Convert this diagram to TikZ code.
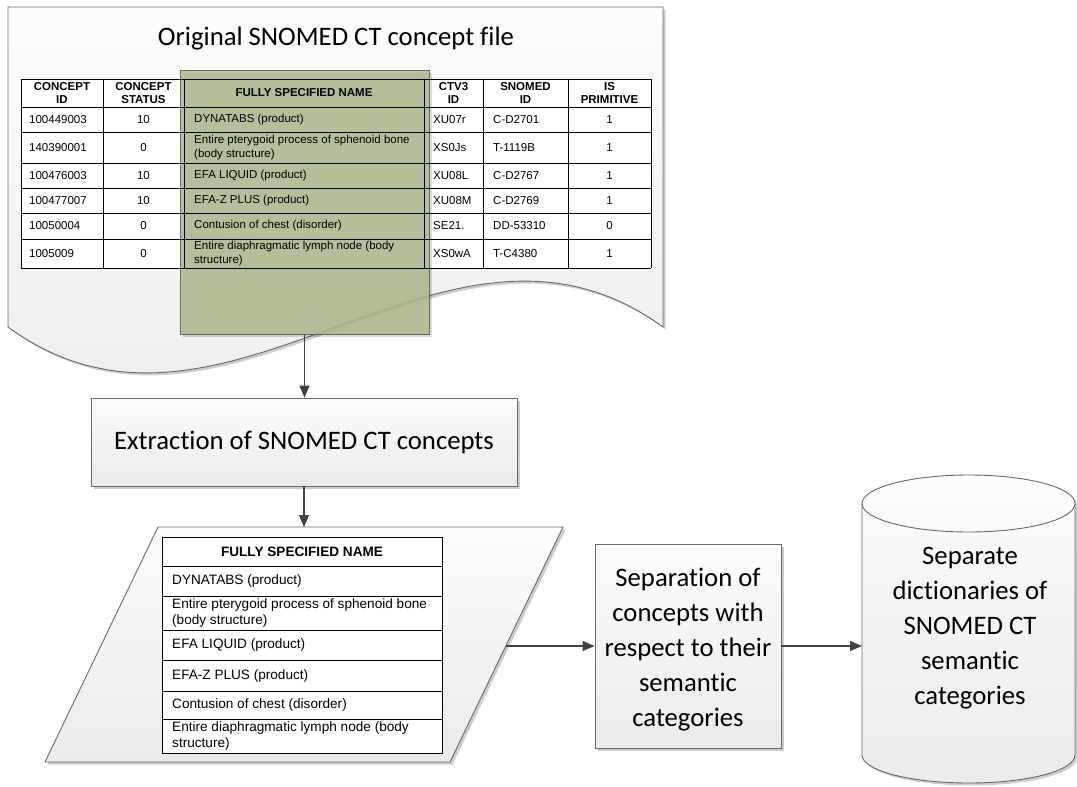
\documentclass[tikz,border=0pt]{standalone}
\usepackage{fontspec}
\setmainfont{Carlito}[Ligatures=NoCommon]
\newfontfamily\arialfont{Liberation Sans}
\usetikzlibrary{arrows.meta,shadows}
\definecolor{shapeline}{RGB}{105,105,105}
\definecolor{arrowc}{RGB}{64,64,64}
\definecolor{greenfill}{RGB}{174,186,141}
\definecolor{greenline}{RGB}{100,108,88}
\definecolor{shapetop}{RGB}{252,252,252}
\definecolor{shapebot}{RGB}{234,234,234}
\begin{document}
\begin{tikzpicture}[x=1pt,y=-1pt,
 shapefill/.style={draw=shapeline, line width=0.9pt, top color=shapetop, bottom color=shapebot},
 boxshadow/.style={drop shadow={shadow xshift=2.5pt, shadow yshift=-2.5pt, opacity=0.2, fill=black}},
 box/.style={shapefill, boxshadow, font=\fontsize{26.7}{35}\selectfont, align=center, inner sep=0pt},
 conn/.style={draw=arrowc, line width=1.4pt, -{Triangle[length=12pt,width=10pt]}},
 cell/.style={font=\arialfont\fontsize{11.5}{13.3}\selectfont, inner sep=0pt, align=left},
 hcell/.style={font=\arialfont\bfseries\fontsize{11.5}{12.8}\selectfont, inner sep=0pt, align=center},
 cellb/.style={font=\arialfont\fontsize{13.6}{16}\selectfont, inner sep=0pt, align=left},
 tline/.style={draw=black, line width=0.9pt},
]
\useasboundingbox (0,0) rectangle (1077,787);

% ---------- document shape ----------
\path[shapefill, boxshadow] (8,7) -- (663,7) -- (663,327)
  .. controls (444.7,168) and (226.3,486) .. (8,327) -- cycle;
\node[font=\fontsize{26.7}{32}\selectfont, inner sep=0pt] (title) at (336,39) {Original SNOMED CT concept file};

% top table background
\fill[white] (21,79) rectangle (651,268);

% green highlight
\node[draw=greenline, fill=greenfill, fill opacity=0.85, line width=0.9pt,
      minimum width=249pt, minimum height=264pt, inner sep=0pt,
      drop shadow={shadow xshift=2.5pt, shadow yshift=-2.5pt, opacity=0.15, fill=black}] (fsn) at (304.5,202) {};

% top table grid
\foreach \x in {21,103,184,424,483,568,651} \draw[tline] (\x,79) -- (\x,268);
\foreach \y in {79,107,132,163,188,213,239,268} \draw[tline] (21,\y) -- (651,\y);

% header
\node[hcell] (h1) at (62,93) {CONCEPT\\ID};
\node[hcell] (h2) at (143.5,93) {CONCEPT\\STATUS};
\node[hcell] (h3) at (304,93) {FULLY SPECIFIED NAME};
\node[hcell] (h4) at (453.5,93) {CTV3\\ID};
\node[hcell] (h5) at (525.5,93) {SNOMED\\ID};
\node[hcell] (h6) at (609.5,93) {IS\\PRIMITIVE};

% rows
\foreach \r/\yy/\ca/\cb/\cc/\cd/\ce/\cf in {
  1/119.5/100449003/10/{DYNATABS (product)}/XU07r/C-D2701/1,
  2/147.5/140390001/0/{Entire pterygoid process of sphenoid bone\\(body structure)}/XS0Js/T-1119B/1,
  3/175.5/100476003/10/{EFA LIQUID (product)}/XU08L/C-D2767/1,
  4/200.5/100477007/10/{EFA-Z PLUS (product)}/XU08M/C-D2769/1,
  5/226/10050004/0/{Contusion of chest (disorder)}/SE21./DD-53310/0,
  6/253.5/1005009/0/{Entire diaphragmatic lymph node (body\\structure)}/XS0wA/T-C4380/1}{
  \node[cell, anchor=west] (ra\r) at (29,\yy) {\ca};
  \node[cell] (rb\r) at (143.5,\yy) {\cb};
  \node[cell, anchor=west] (rc\r) at (194,\yy) {\cc};
  \node[cell, anchor=west] (rd\r) at (433,\yy) {\cd};
  \node[cell, anchor=west] (re\r) at (493,\yy) {\ce};
  \node[cell] (rf\r) at (609.5,\yy) {\cf};
}

% ---------- extraction box ----------
\node[box, minimum width=426pt, minimum height=88pt] (ext) at (304,442) {Extraction of SNOMED CT concepts};

% ---------- parallelogram with extracted names ----------
\path[shapefill, boxshadow] (158,527) -- (563,527) -- (450,762) -- (45,762) -- cycle;
\coordinate (pin) at (304,527);
\coordinate (pout) at (505.8,646);

\fill[white] (162,537) rectangle (442,753);
\draw[tline] (162,537) rectangle (442,753);
\foreach \y in {566,596,630,660,691,719} \draw[tline] (162,\y) -- (442,\y);
\node[hcell, font=\arialfont\bfseries\fontsize{13.6}{16}\selectfont] (bh) at (302,551.5) {FULLY SPECIFIED NAME};
\foreach \r/\yy/\cc in {
  1/581/{DYNATABS (product)},
  2/613/{Entire pterygoid process of sphenoid bone\\(body structure)},
  3/645/{EFA LIQUID (product)},
  4/675.5/{EFA-Z PLUS (product)},
  5/705/{Contusion of chest (disorder)},
  6/736/{Entire diaphragmatic lymph node (body\\structure)}}{
  \node[cellb, anchor=west] (b\r) at (172,\yy) {\cc};
}

% ---------- separation box ----------
\node[box, minimum width=186pt, minimum height=204pt] (sep) at (688,646) {};
\node[font=\fontsize{26.7}{35}\selectfont, align=center, inner sep=0pt] (septext) at (688,650)
  {Separation of\\concepts with\\respect to their\\semantic\\categories};

% ---------- cylinder ----------
\path[shapefill, boxshadow] (862,503.5) -- (862,755)
  .. controls (862,770.5) and (909.9,783) .. (969,783)
  .. controls (1028.1,783) and (1075,770.5) .. (1075,755)
  -- (1075,503.5)
  .. controls (1075,487.8) and (1028.1,475) .. (969,475)
  .. controls (909.9,475) and (862,487.8) .. (862,503.5) -- cycle;
\draw[draw=shapeline, line width=0.9pt] (862,503.5)
  .. controls (862,519.2) and (909.9,532) .. (969,532)
  .. controls (1028.1,532) and (1075,519.2) .. (1075,503.5);
\node[font=\fontsize{26.7}{35}\selectfont, align=center, inner sep=0pt] (cyl) at (970,628)
  {Separate\\dictionaries of\\SNOMED CT\\semantic\\categories};
\coordinate (cylin) at (862,646);

% ---------- connectors ----------
\draw[conn] (fsn.south) -- (fsn.south |- ext.north);
\draw[conn] (ext.south) -- (pin);
\draw[conn] (pout) -- (pout -| sep.west);
\draw[conn] (sep.east) -- (cylin);
\end{tikzpicture}
\end{document}
